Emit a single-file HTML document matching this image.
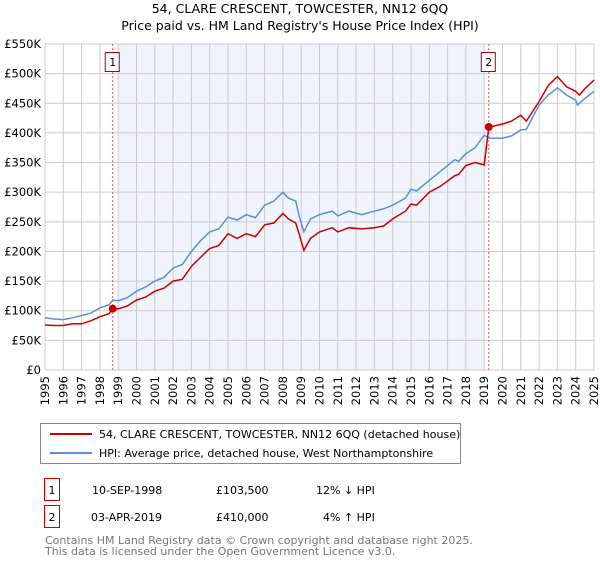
<!DOCTYPE html>
<html><head><meta charset="utf-8"><style>
body{margin:0;background:#fff;font-family:"DejaVu Sans","Liberation Sans",sans-serif;}
svg text{font-family:"DejaVu Sans","Liberation Sans",sans-serif;}
</style></head><body>
<svg id="chart" width="600" height="560" viewBox="0 0 600 560">
<text x="300" y="13" text-anchor="middle" font-size="12.5">54, CLARE CRESCENT, TOWCESTER, NN12 6QQ</text>
<text x="300" y="30" text-anchor="middle" font-size="12.5">Price paid vs. HM Land Registry's House Price Index (HPI)</text>
<g id="plot"></g>
<g>
<rect x="40.5" y="423.5" width="420" height="40" fill="#fff" stroke="#888"/>
<line x1="50" y1="434" x2="92" y2="434" stroke="#cc0000" stroke-width="2"/>
<text x="99" y="438" font-size="11">54, CLARE CRESCENT, TOWCESTER, NN12 6QQ (detached house)</text>
<line x1="50" y1="453" x2="92" y2="453" stroke="#5b8fd6" stroke-width="2"/>
<text x="99" y="457" font-size="11">HPI: Average price, detached house, West Northamptonshire</text>
</g>
<g>
<rect x="44.5" y="478.5" width="15" height="22" fill="#fff" stroke="#cc0000"/>
<text x="52" y="494" text-anchor="middle" font-size="11">1</text>
<text x="92" y="494" font-size="11">10-SEP-1998</text>
<text x="216" y="494" font-size="11">£103,500</text>
<text x="316" y="494" font-size="11">12% ↓ HPI</text>
</g>
<g>
<rect x="44.5" y="505.5" width="15" height="22" fill="#fff" stroke="#cc0000"/>
<text x="52" y="521" text-anchor="middle" font-size="11">2</text>
<text x="91" y="521" font-size="11">03-APR-2019</text>
<text x="216" y="521" font-size="11">£410,000</text>
<text x="323" y="521" font-size="11">4% ↑ HPI</text>
</g>
<text x="45" y="544" font-size="11" fill="#777">Contains HM Land Registry data © Crown copyright and database right 2025.</text>
<text x="45" y="555" font-size="11" fill="#777">This data is licensed under the Open Government Licence v3.0.</text>
</svg>
<script>
const yearTicks=[1995,1996,1997,1998,1999,2000,2001,2002,2003,2004,2005,2006,2007,2008,2009,2010,2011,2012,2013,2014,2015,2016,2017,2018,2019,2020,2021,2022,2023,2024,2025];
const valueTicks=[0,50,100,150,200,250,300,350,400,450,500,550];
const valueTickLabels=["£0","£50K","£100K","£150K","£200K","£250K","£300K","£350K","£400K","£450K","£500K","£550K"];
const hpiYears=[1995,1995.5,1996,1996.5,1997,1997.5,1998,1998.5,1998.7,1999,1999.5,2000,2000.5,2001,2001.5,2002,2002.5,2003,2003.5,2004,2004.5,2005,2005.5,2006,2006.5,2007,2007.5,2008,2008.3,2008.7,2008.9,2009.15,2009.5,2010,2010.7,2011,2011.6,2012.3,2013,2013.5,2014,2014.7,2015,2015.3,2016,2016.6,2017.4,2017.6,2018,2018.5,2019,2019.3,2020,2020.5,2021,2021.3,2022,2022.5,2023,2023.5,2024,2024.1,2024.5,2025];
const hpiValues=[88,86,85,88,92,96,105,110,118,117,122,133,140,150,156,172,178,200,218,233,238,258,253,262,257,278,285,300,290,285,258,233,255,262,268,260,268,262,268,272,278,290,305,302,320,335,355,352,365,375,396,391,391,395,405,406,447,464,476,464,455,447,458,470];
const ppYears=[1995,1995.5,1996,1996.5,1997,1997.5,1998,1998.5,1998.7,1999,1999.5,2000,2000.5,2001,2001.5,2002,2002.5,2003,2003.5,2004,2004.5,2005,2005.5,2006,2006.5,2007,2007.5,2008,2008.3,2008.7,2008.9,2009.15,2009.5,2010,2010.7,2011,2011.6,2012.3,2013,2013.5,2014,2014.7,2015,2015.3,2016,2016.6,2017.4,2017.6,2018,2018.5,2019,2019.25,2019.3,2020,2020.5,2021,2021.3,2022,2022.5,2023,2023.5,2024,2024.2,2024.5,2025];
const ppValues=[76,75,75,78,78,83,90,95,103.5,103,108,118,123,133,138,150,153,175,190,205,210,230,222,230,225,245,248,264,255,248,228,202,222,233,240,233,240,238,240,243,255,268,280,278,300,310,328,330,345,350,346,410,410,415,420,430,420,453,480,495,478,470,464,475,489];
const saleYears=[1998.7,2019.25];
const saleValues=[103.5,410];
const saleLabels=["1","2"];
const NS="http://www.w3.org/2000/svg";
const X0=45,X1=594,Y0=370,Y1=44;
function xs(y){return X0+(y-1995)/30*(X1-X0);}
function ys(v){return Y0-v/550*(Y0-Y1);}
const g=document.getElementById('plot');
function mk(t,a){const e=document.createElementNS(NS,t);for(const k in a)e.setAttribute(k,a[k]);g.appendChild(e);return e;}
const bg=mk('rect',{x:X0,y:Y1,width:X1-X0,height:Y0-Y1,fill:'#fff'});


const sh=mk('rect',{x:xs(1999),y:Y1,width:xs(2019)-xs(1999),height:Y0-Y1,fill:'#f0f4fd'});


yearTicks.forEach(t=>{
 const l=mk('line',{x1:xs(t),x2:xs(t),y1:Y1,y2:Y0,stroke:'#ccc','stroke-width':1});
 
 
 const tx=mk('text',{x:0,y:0,'font-size':11.5,'text-anchor':'end',transform:`translate(${xs(t)+4},${Y0+6}) rotate(-90)`});
 tx.textContent=t;
 
 
});
valueTicks.forEach((v,i)=>{
 const l=mk('line',{x1:X0,x2:X1,y1:ys(v),y2:ys(v),stroke:'#ccc','stroke-width':1});
 
 
 const tx=mk('text',{x:X0-4,y:ys(v)+4,'font-size':11.5,'text-anchor':'end'});
 tx.textContent=valueTickLabels[i];
 
 
});
saleYears.forEach((s,i)=>{
 const l=mk('line',{x1:xs(s),x2:xs(s),y1:Y1,y2:Y0,stroke:'#ee5555','stroke-width':1,'stroke-dasharray':'2,2'});
 
 
 const r=mk('rect',{x:xs(s)-7.5,y:52.5,width:14,height:19,fill:'#fff',stroke:'#aa0000'});
 
 
 const tx=mk('text',{x:xs(s),y:66,'font-size':11,'text-anchor':'middle'});
 tx.textContent=saleLabels[i];
 
 
});
function path(xa,va){return xa.map((y,i)=>(i?'L':'M')+xs(y).toFixed(1)+','+ys(va[i]).toFixed(1)).join('');}
const hp=mk('path',{d:path(hpiYears,hpiValues),fill:'none',stroke:'#5b8fd6','stroke-width':1.5});


const pp=mk('path',{d:path(ppYears,ppValues),fill:'none',stroke:'#cc0000','stroke-width':1.5});


saleYears.forEach((s,i)=>{
 const c=mk('circle',{cx:xs(s),cy:ys(saleValues[i]),r:4,fill:'#cc0000'});
 
 
});
</script>
</body></html>
